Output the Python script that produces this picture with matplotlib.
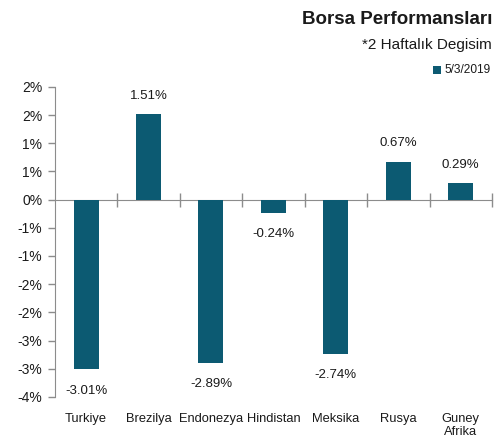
import matplotlib
matplotlib.use("Agg")
import matplotlib.pyplot as plt
from matplotlib.ticker import FixedLocator
import matplotlib.transforms as mtransforms

# data
countries = ["Turkiye", "Brezilya", "Endonezya", "Hindistan", "Meksika", "Rusya", "Guney\nAfrika"]
values = [-3.01, 1.51, -2.89, -0.24, -2.74, 0.67, 0.29]
value_labels = ["-3.01%", "1.51%", "-2.89%", "-0.24%", "-2.74%", "0.67%", "0.29%"]
y_ticks = [2.0, 1.5, 1.0, 0.5, 0.0, -0.5, -1.0, -1.5, -2.0, -2.5, -3.0, -3.5]
y_tick_labels = ["2%", "2%", "1%", "1%", "0%", "-1%", "-1%", "-2%", "-2%", "-3%", "-3%", "-4%"]
legend_label = "5/3/2019"

bar_color = "#0c5a72"
text_color = "#1a1a1a"
axis_color = "#8c8c8c"

plt.rcParams["font.family"] = ["Liberation Sans Narrow", "Liberation Sans", "DejaVu Sans"]

fig = plt.figure(figsize=(4.98, 4.43), dpi=100)
ax = fig.add_axes([0.110, 0.104, 0.878, 0.700])

x = list(range(len(countries)))
ax.bar(x, values, width=0.4, color=bar_color, zorder=3)

ax.set_xlim(-0.5, len(countries) - 0.5)
ax.set_ylim(-3.5, 2.0)

# y axis
ax.yaxis.set_major_locator(FixedLocator(y_ticks))
ax.set_yticklabels(y_tick_labels)
ax.tick_params(axis="y", direction="out", length=5, color=axis_color, width=1,
               labelsize=10, labelcolor=text_color, pad=4)

# x axis sits on zero, ticks between categories
ax.spines["bottom"].set_position(("data", 0))
ax.spines["bottom"].set_color(axis_color)
ax.spines["left"].set_color(axis_color)
ax.spines["top"].set_visible(False)
ax.spines["right"].set_visible(False)
boundaries = [i + 0.5 for i in x]
ax.xaxis.set_major_locator(FixedLocator(boundaries))
ax.set_xticklabels([])
ax.tick_params(axis="x", direction="inout", length=10, color=axis_color, width=1)

# value labels
for xi, v, lab in zip(x, values, value_labels):
    off = 9 if v >= 0 else -11
    ax.annotate(lab, (xi, v), xytext=(0, off), textcoords="offset points",
                ha="center", va="bottom" if v >= 0 else "top",
                fontsize=9.5, color=text_color)

# category labels at the bottom
trans = mtransforms.blended_transform_factory(ax.transData, ax.transAxes)
for xi, name in zip(x, countries):
    ax.text(xi, -0.052, name, transform=trans, ha="center", va="top",
            fontsize=9.3, color=text_color, linespacing=1.15)

# titles and legend
fig.text(0.988, 0.955, "Borsa Performansları", ha="right", va="center",
         fontsize=13.5, fontweight="bold", color=text_color)
fig.text(0.988, 0.898, "*2 Haftalık Degisim", ha="right", va="center",
         fontsize=11, color=text_color)
fig.text(0.986, 0.842, legend_label, ha="right", va="center",
         fontsize=8.6, color=text_color)
fig.patches.append(plt.Rectangle((0.870, 0.834), 0.016, 0.018, transform=fig.transFigure,
                                 facecolor=bar_color, edgecolor="none"))

fig.savefig("out.png", dpi=100)
